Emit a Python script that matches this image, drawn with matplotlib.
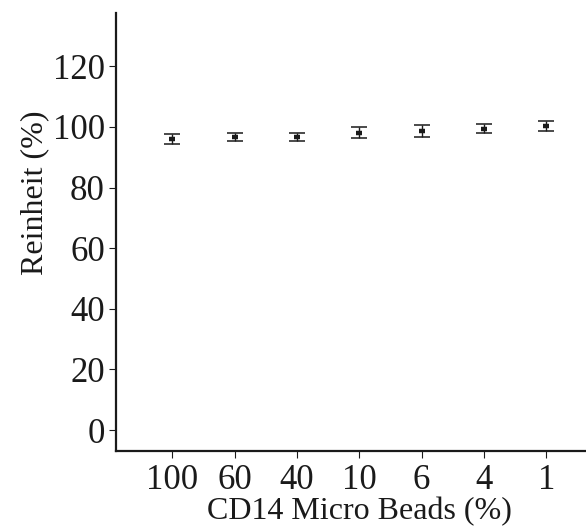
import matplotlib
matplotlib.use("Agg")
import matplotlib.pyplot as plt

# data
categories = ["100", "60", "40", "10", "6", "4", "1"]
means = [95.9, 96.8, 96.7, 97.9, 98.5, 99.4, 100.3]
upper = [97.6, 97.9, 97.9, 100.1, 100.7, 101.1, 102.1]
lower = [94.5, 95.4, 95.3, 96.3, 96.8, 97.9, 98.8]

plt.rcParams['font.family'] = ['Liberation Serif', 'DejaVu Serif']

fig = plt.figure(figsize=(5.86, 5.29), dpi=100)
ax = fig.add_axes([0.198, 0.147, 0.83, 0.828])

x = list(range(len(categories)))
err = [[m - l for m, l in zip(means, lower)], [u - m for m, u in zip(means, upper)]]
ax.errorbar(x, means, yerr=err, fmt='none', ecolor='#1a1a1a',
            elinewidth=1.0, capsize=5.5, capthick=1.1)
ax.plot(x, means, linestyle='none', marker='_', color='#1a1a1a',
        markersize=5, markeredgewidth=3.2)

ax.set_xlim(-0.9, 6.9)
ax.set_ylim(-7, 137.5)
ax.set_yticks([0, 20, 40, 60, 80, 100, 120])
ax.set_xticks(x)
ax.set_xticklabels(categories)

for side in ['top', 'right']:
    ax.spines[side].set_visible(False)
for side in ['left', 'bottom']:
    ax.spines[side].set_linewidth(1.6)
    ax.spines[side].set_color('#1a1a1a')

ax.tick_params(axis='both', direction='out', length=5, width=0.8,
               labelsize=25, colors='#1a1a1a', pad=3)
ax.tick_params(axis='x', pad=4)
ax.set_xlabel('CD14 Micro Beads (%)', fontsize=23, color='#1a1a1a', labelpad=0)
ax.set_ylabel('Reinheit (%)', fontsize=23, color='#1a1a1a')
ax.yaxis.set_label_coords(-0.137, 0.59)

fig.savefig('out.png', dpi=100)
